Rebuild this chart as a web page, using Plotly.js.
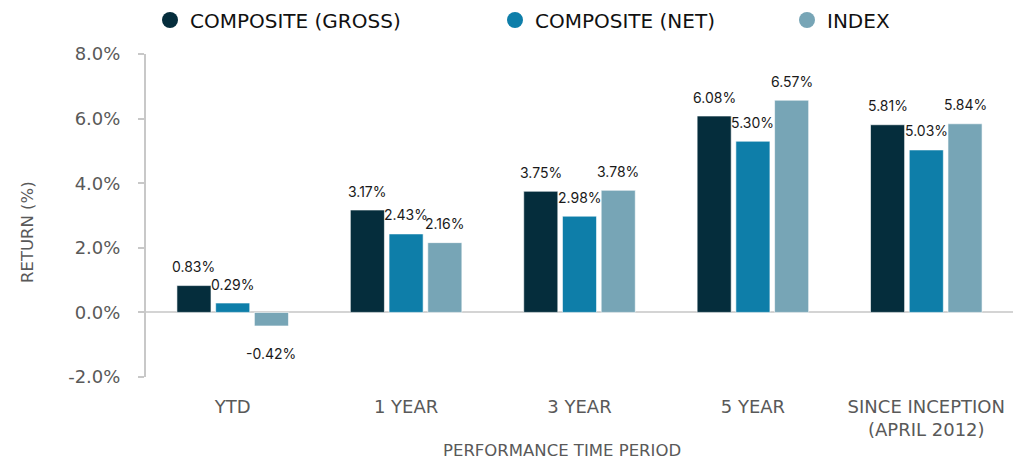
<!DOCTYPE html>
<html>
<head>
<meta charset="utf-8">
<script src="https://cdn.plot.ly/plotly-3.0.1.min.js"></script>
<style>html,body{margin:0;padding:0;background:#fff;}#chart{width:1024px;height:461px;}</style>
</head>
<body>
<div id="chart"></div>
<script>
const categories = ["YTD", "1 YEAR", "3 YEAR", "5 YEAR", "SINCE INCEPTION<br>(APRIL 2012)"];
const seriesNames = ["COMPOSITE (GROSS)", "COMPOSITE (NET)", "INDEX"];
const gross = [0.83, 3.17, 3.75, 6.08, 5.81];
const net = [0.29, 2.43, 2.98, 5.30, 5.03];
const index = [-0.42, 2.16, 3.78, 6.57, 5.84];
const yTickVals = [-2, 0, 2, 4, 6, 8];
const yTickText = ["-2.0%", "0.0%", "2.0%", "4.0%", "6.0%", "8.0%"];

const colors = ["#052d3c", "#0e7ea9", "#77a5b6"];
const series = [gross, net, index];

const W = 1024, H = 461;
const margin = {l: 146, r: 11, t: 54, b: 84};
const plotW = W - margin.l - margin.r;
const plotH = H - margin.t - margin.b;
const bargap = 0.33;
const slotPx = plotW / categories.length * (1 - bargap) / series.length;
const axisFont = '"DejaVu Sans", sans-serif';

const traces = [];
series.forEach((vals, i) => {
  traces.push({
    type: 'bar', x: categories, y: vals, name: seriesNames[i],
    marker: {color: colors[i], line: {color: 'rgba(255,255,255,0.6)', width: 1}},
    showlegend: false, hoverinfo: 'none'
  });
});
const legendKeys = ['legend', 'legend2', 'legend3'];
series.forEach((vals, i) => {
  traces.push({
    type: 'scatter', mode: 'markers', x: [null], y: [null], name: seriesNames[i],
    marker: {color: colors[i], size: 18, symbol: 'circle'},
    legend: legendKeys[i], showlegend: true, hoverinfo: 'none'
  });
});

const annotations = [];
series.forEach((vals, i) => {
  vals.forEach((v, j) => {
    annotations.push({
      x: categories[j], y: v, xref: 'x', yref: 'y',
      text: v.toFixed(2) + '%', showarrow: false,
      xshift: (i - 1) * slotPx,
      yanchor: 'middle', yshift: v >= 0 ? 19 : -28,
      font: {family: 'Inter, "Liberation Sans", sans-serif', size: 14, color: '#1a1a1a'}
    });
  });
});
annotations.push({
  text: 'PERFORMANCE TIME PERIOD', showarrow: false,
  xref: 'paper', yref: 'paper', x: (562 - margin.l) / plotW, y: (H - margin.b - 450) / plotH,
  xanchor: 'center', yanchor: 'middle',
  font: {family: axisFont, size: 16.5, color: '#595959'}
});
annotations.push({
  text: 'RETURN (%)', showarrow: false, textangle: -90,
  xref: 'paper', yref: 'paper', x: (28 - margin.l) / plotW, y: (H - margin.b - 232) / plotH,
  xanchor: 'center', yanchor: 'middle',
  font: {family: axisFont, size: 16.5, color: '#595959'}
});

const legendBase = {
  orientation: 'h', yanchor: 'middle', xanchor: 'left',
  xref: 'container', yref: 'container', y: 1 - 20 / H,
  font: {family: axisFont, size: 20, color: '#111'},
  bgcolor: 'rgba(0,0,0,0)', itemsizing: 'trace'
};

const layout = {
  width: W, height: H, margin: margin,
  paper_bgcolor: '#fff', plot_bgcolor: '#fff',
  barmode: 'group', bargap: bargap, bargroupgap: 0.12,
  showlegend: true,
  legend: Object.assign({}, legendBase, {x: 150 / W}),
  legend2: Object.assign({}, legendBase, {x: 495 / W}),
  legend3: Object.assign({}, legendBase, {x: 787 / W}),
  xaxis: {
    type: 'category', showline: false, showgrid: false, zeroline: false, ticks: '',
    ticklabelstandoff: 17,
    tickfont: {family: axisFont, size: 18, color: '#595959'}
  },
  yaxis: {
    range: [-2, 8], tickvals: yTickVals, ticktext: yTickText,
    showgrid: false, zeroline: true, zerolinecolor: '#d4d4d4', zerolinewidth: 2,
    showline: true, linecolor: '#c8c8c8', linewidth: 2,
    ticks: 'outside', ticklen: 6, tickcolor: '#c8c8c8', tickwidth: 2,
    ticklabelstandoff: 14,
    tickfont: {family: axisFont, size: 18, color: '#595959'}
  },
  annotations: annotations
};

Plotly.newPlot('chart', traces, layout, {displayModeBar: false, staticPlot: true});
</script>
</body>
</html>
